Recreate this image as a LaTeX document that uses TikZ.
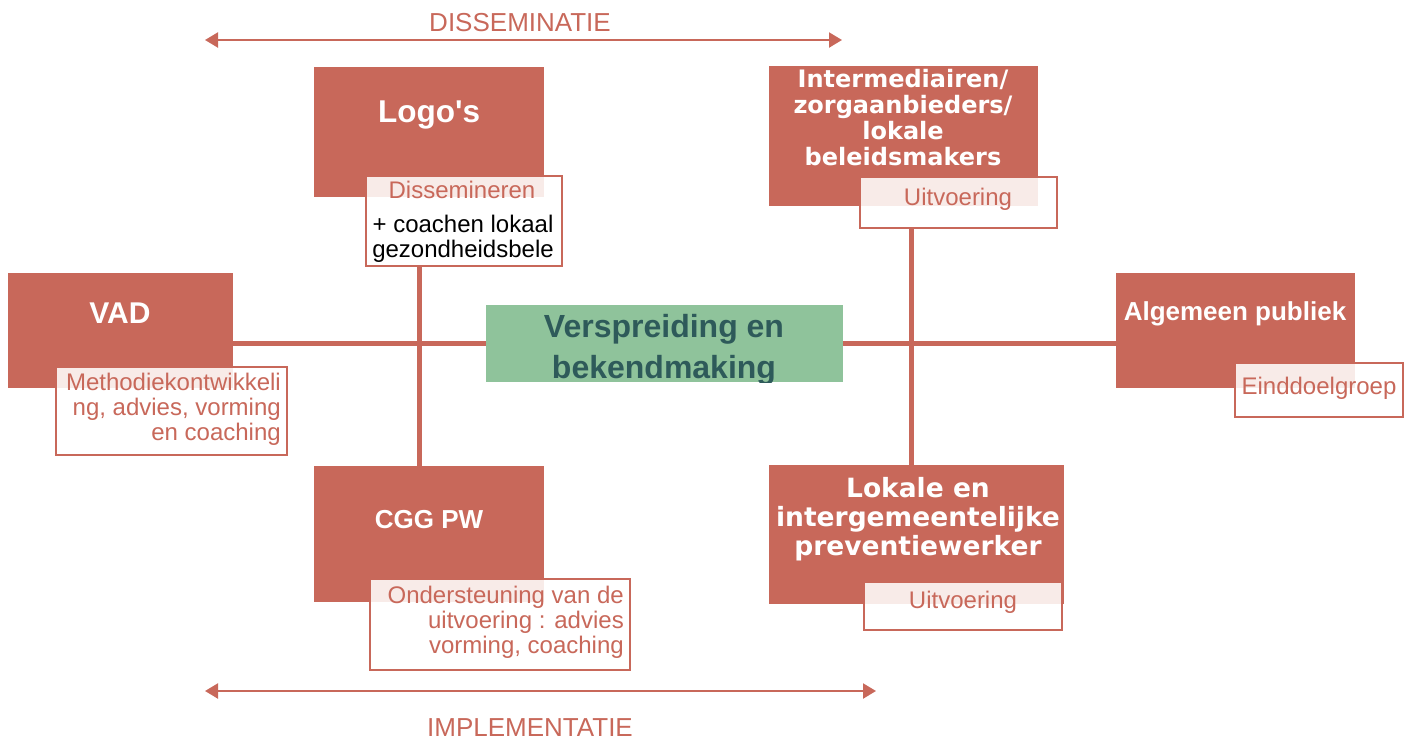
\documentclass[tikz,border=0pt]{standalone}
\usepackage{fontspec}
\setmainfont{Liberation Sans}
\newfontfamily\dvfont{DejaVu Sans}
\usetikzlibrary{arrows.meta}
\definecolor{rd}{RGB}{200,104,90}
\definecolor{pk}{RGB}{248,235,232}
\definecolor{gr}{RGB}{143,195,155}
\definecolor{tl}{RGB}{46,90,90}
\begin{document}
\begin{tikzpicture}[x=1pt,y=-1pt,
  redbox/.style={fill=rd, inner sep=0pt, outer sep=0pt, anchor=north west},
  subbox/.style={fill=white, inner sep=0pt, outer sep=0pt, anchor=north west},
  subborder/.style={draw=rd, line width=2.5pt},
  conn/.style={draw=rd, line width=5pt},
  dblarrow/.style={draw=rd, line width=2.2pt, {Triangle[width=15pt,length=13pt]}-{Triangle[width=15pt,length=13pt]}},
  title/.style={text=white, inner sep=0pt, font=\bfseries\fontsize{30}{32}\selectfont},
  widetitle/.style={text=white, inner sep=0pt, align=center},
  subtext/.style={text=rd, inner sep=0pt, font=\fontsize{24}{25}\selectfont},
  bigtext/.style={text=rd, inner sep=0pt, font=\fontsize{26}{28}\selectfont}]
\useasboundingbox (0,0) rectangle (1405,740);

% arrows
\coordinate (dl) at (205,40);
\coordinate (dr) at (842,40);
\coordinate (il) at (205,691);
\coordinate (ir) at (876,691);
\draw[dblarrow] (dl) -- (dr);
\draw[dblarrow] (il) -- (ir);
\node[bigtext, anchor=base] (diss) at (520,31) {DISSEMINATIE};
\node[bigtext, anchor=base] (impl) at (530,736) {IMPLEMENTATIE};

% boxes (geometry)
\node[redbox, minimum width=230pt, minimum height=130pt] (logos) at (314,67) {};
\node[redbox, minimum width=269pt, minimum height=140pt] (inter) at (769,66) {};
\node[redbox, minimum width=225pt, minimum height=115pt] (vad) at (8,273) {};
\node[redbox, minimum width=239pt, minimum height=115pt] (alg) at (1116,273) {};
\node[redbox, minimum width=230pt, minimum height=136pt] (cgg) at (314,466) {};
\node[redbox, minimum width=295pt, minimum height=139pt] (lok) at (769,465) {};
\node[fill=gr, inner sep=0pt, outer sep=0pt, anchor=north west, minimum width=357pt, minimum height=77pt] (center) at (486,305) {};

% connectors
\draw[conn] (vad.east |- center.west) -- (center.west);
\draw[conn] (center.east) -- (alg.west |- center.east);

% sub boxes
\node[subbox, minimum width=196pt, minimum height=90pt] (logosub) at (366,176) {};
\node[subbox, minimum width=197pt, minimum height=51pt] (intersub) at (860,177) {};
\node[subbox, minimum width=231pt, minimum height=88pt] (vadsub) at (56,367) {};
\node[subbox, minimum width=168pt, minimum height=54pt] (algsub) at (1235,363) {};
\node[subbox, minimum width=260pt, minimum height=91pt] (cggsub) at (370,579) {};
\node[subbox, minimum width=198pt, minimum height=48pt] (loksub) at (864,582) {};

\fill[pk] (logosub.north west) rectangle (logos.south east);
\fill[pk] (intersub.north west) rectangle (inter.south east);
\fill[pk] (vadsub.north west) rectangle (vad.south east);
\fill[pk] (algsub.north west) rectangle (alg.south east);
\fill[pk] (cggsub.north west) rectangle (cgg.south east);
\fill[pk] (loksub.north west) rectangle (loksub.east |- lok.south);

\draw[subborder] (logosub.north west) rectangle (logosub.south east);
\draw[subborder] (intersub.north west) rectangle (intersub.south east);
\draw[subborder] (vadsub.north west) rectangle (vadsub.south east);
\draw[subborder] (algsub.north west) rectangle (algsub.south east);
\draw[subborder] (cggsub.north west) rectangle (cggsub.south east);
\draw[subborder] (loksub.north west) rectangle (loksub.south east);

\draw[conn] ([xshift=-10pt]cgg.north |- logosub.south) -- ([xshift=-10pt]cgg.north);
\draw[conn] ([xshift=-5pt]lok.north |- intersub.south) -- ([xshift=-5pt]lok.north);

% titles
\node[title, font=\bfseries\fontsize{31.5}{33}\selectfont] (logost) at (429,115) {Logo\textquotesingle s};
\node[widetitle, font=\dvfont\bfseries\fontsize{24}{26}\selectfont] (intert) at (903,118) {Intermediairen/\\zorgaanbieders/\\lokale\\beleidsmakers};
\node[title] (vadt) at (120,313) {VAD};
\node[title, font=\bfseries\fontsize{26}{28}\selectfont] (algt) at (1235,314) {Algemeen publiek};
\node[title, font=\bfseries\fontsize{26}{28}\selectfont] (cggt) at (429,520) {CGG PW};
\node[widetitle, font=\dvfont\bfseries\fontsize{26.5}{29}\selectfont] (lokt) at (918,519) {Lokale en\\intergemeentelijke\\preventiewerker};
\begin{scope}
\clip (center.north west) rectangle (center.south east);
\node[text=tl, inner sep=0pt, align=center, font=\bfseries\fontsize{32}{41}\selectfont] (centert) at (664,350) {Verspreiding en\\bekendmaking};
\end{scope}

% sub texts
\node[subtext] (logos1) at (462,190) {Dissemineren};
\node[subtext, text=black, align=center] (logos2) at (463,239) {+ coachen lokaal\\gezondheidsbele};
\node[subtext] (inters) at (958,199) {Uitvoering};
\node[subtext, align=right, anchor=east] (vads) at (281,409) {Methodiekontwikkeli\\ng, advies, vorming\\en coaching};
\node[subtext] (algs) at (1319,388) {Einddoelgroep};
\node[subtext, align=right, anchor=east] (cggs) at (624,622) {Ondersteuning van de\\uitvoering : advies\\vorming, coaching};
\node[subtext] (loks) at (963,602) {Uitvoering};
\end{tikzpicture}
\end{document}
